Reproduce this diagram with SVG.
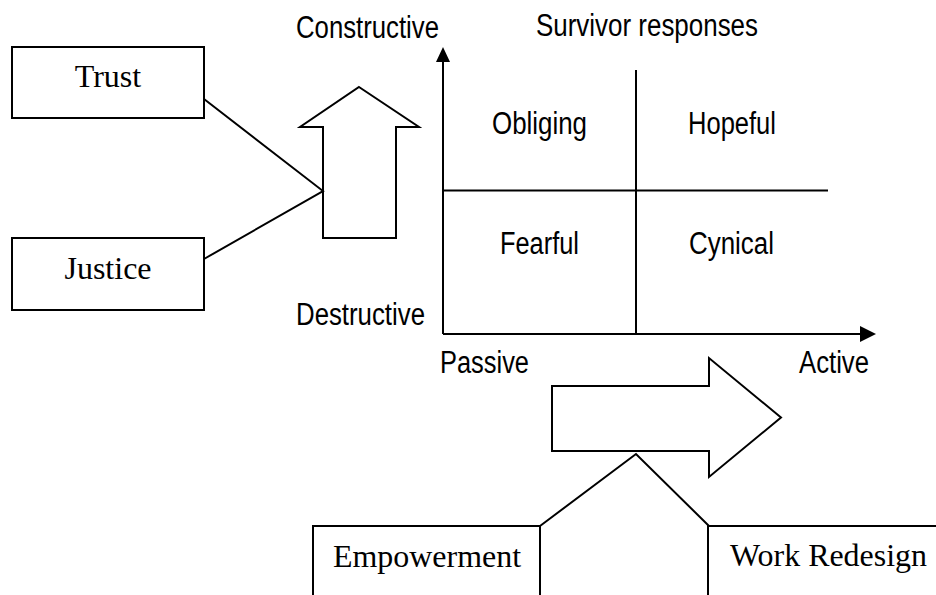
<svg xmlns="http://www.w3.org/2000/svg" width="936" height="595" viewBox="0 0 936 595">
<style>
.box{fill:#fff;stroke:#000;stroke-width:2}
.ln{fill:none;stroke:#000;stroke-width:2}
.serif{font-family:"Liberation Serif","Times New Roman",serif;font-size:32px;fill:#000}
.sans{font-family:"Liberation Sans",Arial,sans-serif;font-size:31px;fill:#000}
</style>
<rect width="936" height="595" fill="#fff"/>
<g id="trust">
<rect class="box" x="12" y="47" width="192" height="71"/>
<text class="serif" x="108" y="87" text-anchor="middle">Trust</text>
</g>
<g id="justice">
<rect class="box" x="12" y="238" width="192" height="72"/>
<text class="serif" x="108" y="279" text-anchor="middle">Justice</text>
</g>
<g id="up-arrow">
<polygon class="box" points="359,87 419,127 396,127 396,238 323,238 323,127 300,127"/>
</g>
<g id="right-arrow">
<polygon class="box" points="552,386 709,386 709,358 781,417.5 709,477 709,451 552,451"/>
</g>
<g id="empowerment">
<rect class="box" x="313" y="526" width="227" height="80"/>
<text class="serif" x="333" y="567" textLength="188" lengthAdjust="spacingAndGlyphs">Empowerment</text>
</g>
<g id="work-redesign">
<rect class="box" x="708" y="526" width="240" height="80"/>
<text class="serif" x="730" y="566" textLength="197" lengthAdjust="spacingAndGlyphs">Work Redesign</text>
</g>
<g id="chart">
<line class="ln" x1="443" y1="334" x2="443" y2="60"/>
<polygon points="443,47 436,62 450,62" fill="#000"/>
<line class="ln" x1="443" y1="334" x2="862" y2="334"/>
<polygon points="876,334 860,326 860,342" fill="#000"/>
<line class="ln" x1="636" y1="70" x2="636" y2="334"/>
<line class="ln" x1="443" y1="190.5" x2="828" y2="190.5"/>
<text class="sans" x="296" y="38" textLength="143" lengthAdjust="spacingAndGlyphs">Constructive</text>
<text class="sans" x="536" y="36" textLength="222" lengthAdjust="spacingAndGlyphs">Survivor responses</text>
<text class="sans" x="296" y="325" textLength="129" lengthAdjust="spacingAndGlyphs">Destructive</text>
<text class="sans" x="440" y="373" textLength="89" lengthAdjust="spacingAndGlyphs">Passive</text>
<text class="sans" x="799" y="373" textLength="70" lengthAdjust="spacingAndGlyphs">Active</text>
<text class="sans" x="492" y="134" textLength="95" lengthAdjust="spacingAndGlyphs">Obliging</text>
<text class="sans" x="688" y="134" textLength="88" lengthAdjust="spacingAndGlyphs">Hopeful</text>
<text class="sans" x="500" y="254" textLength="79" lengthAdjust="spacingAndGlyphs">Fearful</text>
<text class="sans" x="689" y="254" textLength="85" lengthAdjust="spacingAndGlyphs">Cynical</text>
</g>
<g id="connectors">
<polyline class="ln" points="204,99 323,191 204,259"/>
<polyline class="ln" points="540,526 636,454 709,526"/>
</g>
</svg>
